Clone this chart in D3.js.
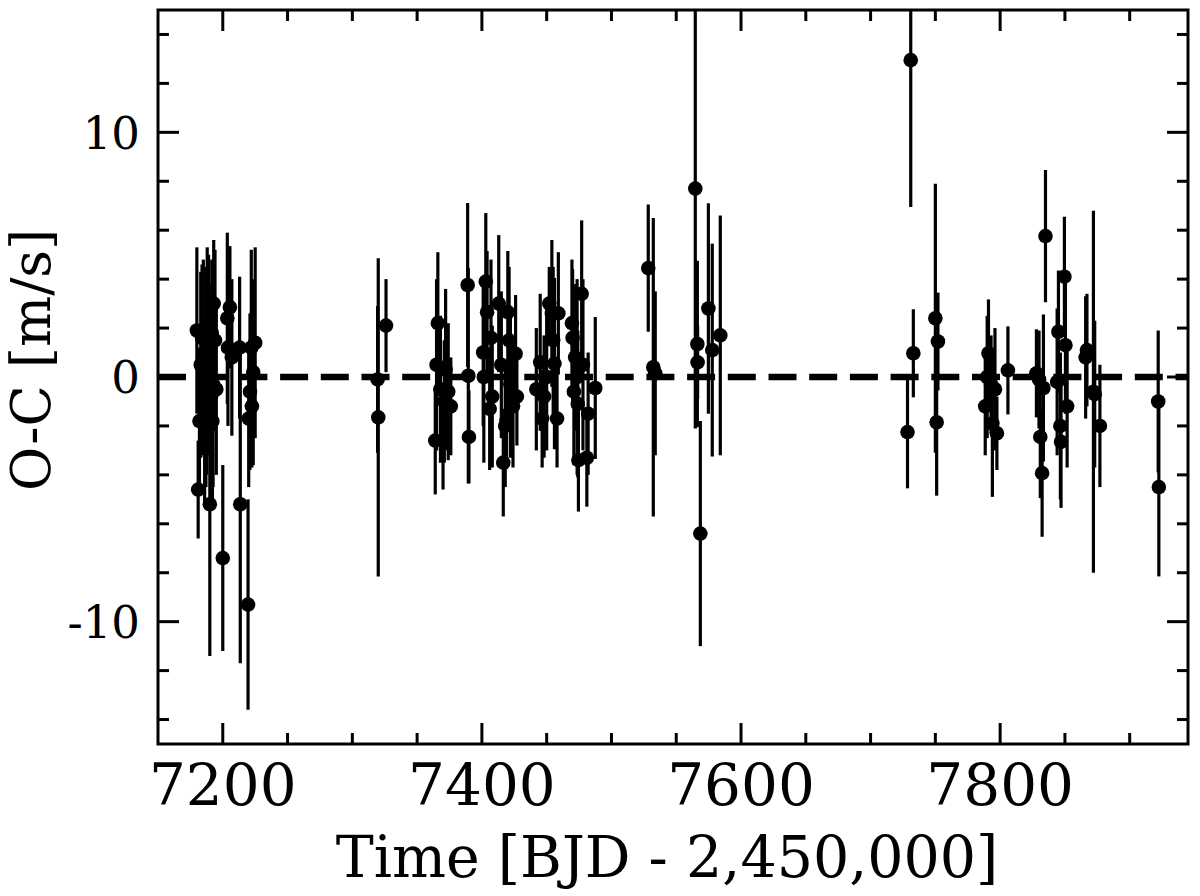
<!DOCTYPE html>
<html>
<head>
<meta charset="utf-8">
<script src="https://cdn.jsdelivr.net/npm/d3@7"></script>
<style>
  html, body { margin: 0; padding: 0; background: #fff; }
  svg { display: block; }
  text { font-family: "DejaVu Serif", serif; fill: #000; }
</style>
</head>
<body>
<svg id="chart" width="1200" height="896"></svg>
<script>
// ---- Data ----
const times = [
  7180, 7181, 7182, 7183, 7184, 7186, 7187, 7188, 7189, 7190, 7191, 7192, 7193, 7194, 7195,
  7185, 7187.5, 7189.5, 7191.5, 7192.5,
  7200, 7203.5, 7205.5, 7204, 7207, 7213, 7213.5, 7219.5, 7220, 7222.5, 7222, 7225, 7221, 7223.5,
  7320, 7319.5, 7326,
  7364, 7365, 7366, 7368, 7370, 7371, 7372, 7374, 7376,
  7389, 7389.5, 7390, 7401, 7401.5, 7403, 7404, 7406, 7407, 7408,
  7413, 7415, 7416.5, 7418, 7419, 7420, 7421, 7422, 7424, 7426, 7427,
  7442, 7445, 7446.5, 7448, 7450, 7452, 7454, 7455, 7456, 7458, 7459,
  7469.5, 7470, 7471, 7472, 7473.5, 7474, 7474.5, 7477, 7478, 7481, 7482, 7487.5,
  7528.4, 7532.3, 7533.8, 7564.7, 7566.3, 7566.5, 7568.6, 7574.8, 7577.8, 7584,
  7728.5, 7731, 7733, 7750, 7751, 7752,
  7788.5, 7790, 7791, 7793, 7794, 7796, 7797.5, 7806,
  7828, 7830, 7831, 7832.4, 7833.4, 7835,
  7844, 7845, 7846.5, 7847, 7849.6, 7850.4, 7851.7,
  7866, 7867, 7872, 7873, 7877,
  7922, 7922.5
];
const residuals = [
  1.9, -4.6, -1.8, 0.5, 1.6, -1.8, 0.0, 2.0, 1.0, -5.2, -0.8, -1.8, 3.0, 1.5, -0.5,
  0.8, -1.0, 0.3, 1.8, -0.3,
  -7.4, 2.4, 2.85, 1.2, 0.8, 1.2, -5.2, -9.3, -1.7, -1.2, 1.2, 1.4, -0.6, 0.2,
  -1.65, -0.1, 2.1,
  -2.6, 0.5, 2.2, -0.5, -2.6, -1.0, 0.3, -0.6, -1.2,
  3.76, 0.05, -2.45, 1.0, 0.0, 3.9, 2.65, -1.3, 1.6, -0.8,
  3.0, 0.5, -3.5, -2.0, -1.76, 2.65, 1.5, -0.3, -1.2, 0.95, -0.8,
  -0.5, 0.6, -1.7, -0.8, 0.0, 3.0, 2.6, 1.5, 0.55, -1.7, 2.6,
  2.2, 1.6, -0.6, 0.8, 0.0, -1.1, -3.4, 3.4, 0.5, -3.3, -1.5, -0.45,
  4.45, 0.4, 0.15, 7.7, 1.35, 0.6, -6.4, 2.8, 1.1, 1.7,
  -2.25, 12.95, 0.97, 2.4, -1.85, 1.45,
  -1.2, 0.0, 0.97, -0.3, -1.9, -0.5, -2.3, 0.27,
  0.15, -0.1, -2.45, -3.93, -0.45, 5.76,
  -0.2, 1.85, -2.0, -2.65, 4.1, 1.3, -1.2,
  0.8, 1.1, -0.6, -0.7, -2.0,
  -1.0, -4.5
];
const errors = [
  3.4, 2.0, 3.0, 3.8, 3.0, 3.5, 4.5, 3.3, 4.0, 6.2, 4.0, 3.5, 2.6, 3.7, 3.5,
  4.0, 3.0, 3.5, 3.0, 4.2,
  3.8, 3.5, 2.5, 3.2, 3.2, 2.9, 6.5, 4.3, 2.8, 2.5, 4.0, 3.9, 3.2, 3.8,
  6.5, 3.0, 1.9,
  2.2, 3.5, 2.9, 3.0, 2.0, 2.5, 3.3, 2.8, 2.0,
  3.35, 4.4, 1.9, 3.0, 3.5, 2.8, 2.5, 2.5, 3.2, 2.9,
  2.8, 3.0, 2.2, 2.5, 2.0, 2.5, 3.0, 3.0, 2.5, 2.4, 2.0,
  2.5, 2.8, 2.0, 2.5, 3.0, 1.5, 3.0, 3.0, 3.5, 2.0, 2.5,
  2.6, 2.8, 3.0, 3.0, 4.0, 3.0, 2.1, 3.0, 3.5, 2.0, 2.5, 2.9,
  2.6, 6.1, 3.35, 9.8, 3.4, 1.5, 4.6, 4.3, 4.35, 4.9,
  2.3, 6.0, 1.8, 5.5, 3.0, 2.0,
  2.0, 2.5, 2.2, 2.0, 3.0, 2.5, 1.5, 1.8,
  1.8, 2.0, 2.5, 2.6, 3.0, 2.7,
  3.0, 2.5, 3.0, 2.7, 2.45, 2.8, 2.5,
  2.5, 2.3, 7.4, 3.0, 2.5,
  2.9, 3.65
];
const xMajorTicks = [7200, 7400, 7600, 7800];
const xMinorTicks = [7250, 7300, 7350, 7450, 7500, 7550, 7650, 7700, 7750, 7850, 7900];
const yMajorTicks = [-10, 0, 10];
const yMinorTicks = [-14, -12, -8, -6, -4, -2, 2, 4, 6, 8, 12, 14];
const xTickLabels = ["7200", "7400", "7600", "7800"];
const yTickLabels = ["-10", "0", "10"];
const xTitle = "Time [BJD - 2,450,000]";
const yTitle = "O-C [m/s]";

// ---- Layout ----
const L = 158, R = 1188, T = 10, B = 744;
const svg = d3.select("#chart");
const x = d3.scaleLinear().domain([7150, 7945]).range([L, R]);
const y = d3.scaleLinear().domain([-15, 15]).range([B, T]);

const pts = times.map((t, i) => ({ t, v: residuals[i], e: errors[i] }));

svg.append("clipPath").attr("id", "clip")
  .append("rect").attr("x", L).attr("y", T).attr("width", R - L).attr("height", B - T);

const plot = svg.append("g").attr("clip-path", "url(#clip)");

// zero line
plot.append("line")
  .attr("x1", x(7150)).attr("x2", x(7945))
  .attr("y1", y(0)).attr("y2", y(0))
  .attr("stroke", "#000").attr("stroke-width", 6.5)
  .attr("stroke-dasharray", "28,12.7");

// error bars
plot.selectAll("line.err").data(pts).join("line")
  .attr("class", "err")
  .attr("x1", d => x(d.t)).attr("x2", d => x(d.t))
  .attr("y1", d => y(d.v + d.e)).attr("y2", d => y(d.v - d.e))
  .attr("stroke", "#000").attr("stroke-width", 3.2);

// markers
plot.selectAll("circle.pt").data(pts).join("circle")
  .attr("class", "pt")
  .attr("cx", d => x(d.t)).attr("cy", d => y(d.v))
  .attr("r", 7.3).attr("fill", "#000");

// ---- Axes (ticks inward on all sides) ----
const ax = svg.append("g");
const majLen = 21, minLen = 11, tickW = 3;

function xTicks(vals, len) {
  vals.forEach(v => {
    ax.append("line").attr("x1", x(v)).attr("x2", x(v)).attr("y1", B).attr("y2", B - len)
      .attr("stroke", "#000").attr("stroke-width", tickW);
    ax.append("line").attr("x1", x(v)).attr("x2", x(v)).attr("y1", T).attr("y2", T + len)
      .attr("stroke", "#000").attr("stroke-width", tickW);
  });
}
function yTicks(vals, len) {
  vals.forEach(v => {
    ax.append("line").attr("x1", L).attr("x2", L + len).attr("y1", y(v)).attr("y2", y(v))
      .attr("stroke", "#000").attr("stroke-width", tickW);
    ax.append("line").attr("x1", R).attr("x2", R - len).attr("y1", y(v)).attr("y2", y(v))
      .attr("stroke", "#000").attr("stroke-width", tickW);
  });
}
xTicks(xMajorTicks, majLen);
xTicks(xMinorTicks, minLen);
yTicks(yMajorTicks, majLen);
yTicks(yMinorTicks, minLen);

// frame
ax.append("rect").attr("x", L).attr("y", T).attr("width", R - L).attr("height", B - T)
  .attr("fill", "none").attr("stroke", "#000").attr("stroke-width", 3);

// tick labels
ax.selectAll("text.xl").data(xMajorTicks).join("text")
  .attr("class", "xl")
  .attr("x", d => x(d)).attr("y", 805)
  .attr("text-anchor", "middle").attr("font-size", 58)
  .text((d, i) => xTickLabels[i]);

ax.selectAll("text.yl").data(yMajorTicks).join("text")
  .attr("class", "yl")
  .attr("x", 140).attr("y", d => y(d))
  .attr("dy", "0.36em")
  .attr("text-anchor", "end").attr("font-size", 45)
  .text((d, i) => yTickLabels[i]);

// titles
svg.append("text").attr("x", 667).attr("y", 877)
  .attr("text-anchor", "middle").attr("font-size", 57).text(xTitle);

svg.append("text")
  .attr("transform", "translate(50,360) rotate(-90)")
  .attr("text-anchor", "middle").attr("font-size", 54).text(yTitle);
</script>
</body>
</html>
